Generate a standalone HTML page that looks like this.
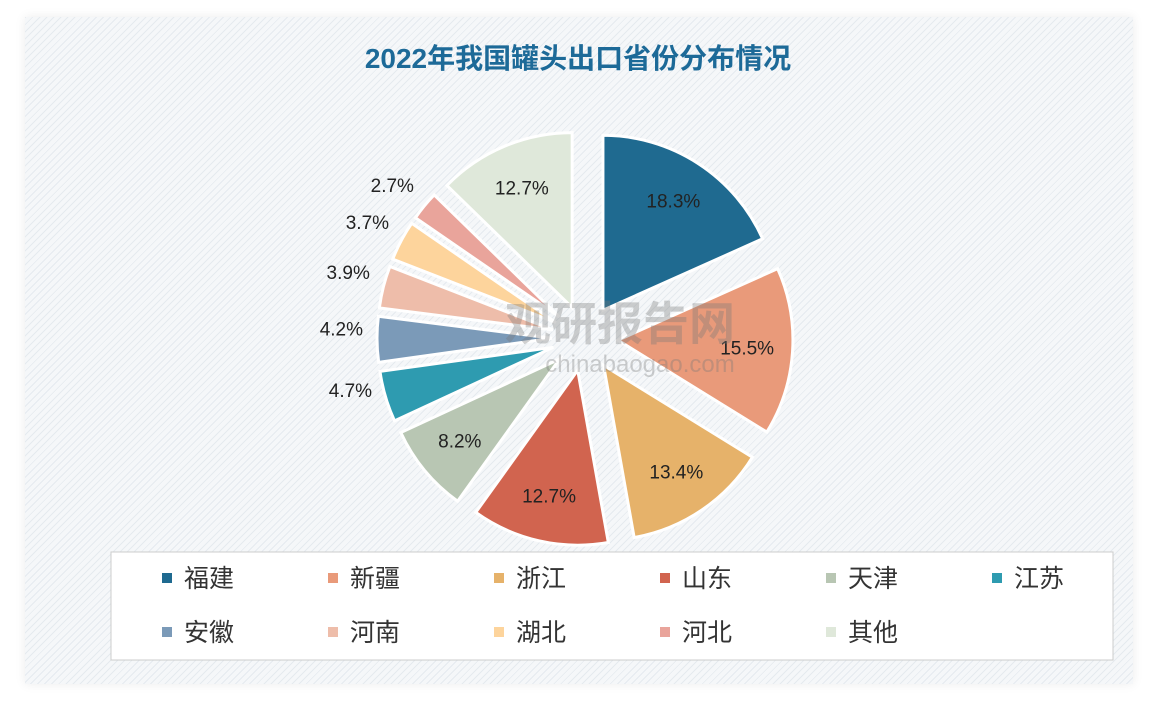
<!DOCTYPE html>
<html><head><meta charset="utf-8"><style>
html,body{margin:0;padding:0;background:#fff;}
body{width:1156px;height:706px;position:relative;overflow:hidden;font-family:"Liberation Sans","Noto Sans CJK SC",sans-serif;}
#panel{position:absolute;left:25px;top:17px;width:1108px;height:667px;background:#f5f7f9;box-shadow:0 0 10px rgba(0,0,0,0.08);
background-image:repeating-linear-gradient(135deg,rgba(200,210,220,0.35) 0 1px,transparent 1px 5px);}
</style></head><body>
<div id="panel"></div>
<svg id="chart" width="1156" height="706" style="position:absolute;left:0;top:0">
<text x="578" y="68" text-anchor="middle" font-size="28" font-weight="bold" fill="#1d6a98" font-family="Liberation Sans, Noto Sans CJK SC, sans-serif">2022年我国罐头出口省份分布情况</text>
<g id="slices"></g>
<g id="labels"></g>
<text x="620" y="340" text-anchor="middle" font-size="46" font-weight="bold" fill="rgba(120,120,120,0.35)" font-family="Noto Sans CJK SC, sans-serif">观研报告网</text>
<text x="640" y="372" text-anchor="middle" font-size="24" fill="rgba(120,120,120,0.35)">chinabaogao.com</text>
<rect x="111" y="552" width="1002" height="108" fill="#fff" stroke="#ccc" stroke-width="1"/>
<g id="legend"></g>
</svg>
<script>
const categories=["福建","新疆","浙江","山东","天津","江苏","安徽","河南","湖北","河北","其他"];
const values=[18.3,15.5,13.4,12.7,8.2,4.7,4.2,3.9,3.7,2.7,12.7];
const colors=["#1f6a90","#e99a7a","#e6b26a","#d1644f","#b8c6b3","#2e9bb0","#7b9ab8","#eebdaa","#fdd49c","#e9a49b","#dfe8da"];
const outside=[false,false,false,false,false,true,true,true,true,true,false];
const NS="http://www.w3.org/2000/svg";
const cx=585,cy=338,R=175,E=33;
const total=values.reduce((a,b)=>a+b,0);
const gS=document.getElementById('slices'),gL=document.getElementById('labels'),gG=document.getElementById('legend');
function pt(x,y,r,a){return [x+r*Math.sin(a),y-r*Math.cos(a)];}
let cum=0;
values.forEach((v,i)=>{
  const a0=cum/total*2*Math.PI,a1=(cum+v)/total*2*Math.PI,am=(a0+a1)/2;cum+=v;
  const ox=cx+E*Math.sin(am),oy=cy-E*Math.cos(am);
  const p0=pt(ox,oy,R,a0),p1=pt(ox,oy,R,a1);
  const path=document.createElementNS(NS,'path');
  path.setAttribute('d',`M${ox},${oy}L${p0[0]},${p0[1]}A${R},${R} 0 ${a1-a0>Math.PI?1:0} 1 ${p1[0]},${p1[1]}Z`);
  path.setAttribute('fill',colors[i]);path.setAttribute('stroke','#fff');path.setAttribute('stroke-width','3');
  
  
  gS.appendChild(path);
  const t=document.createElementNS(NS,'text');
  if(outside[i]){const q=pt(cx,cy,R+E+16,am);t.setAttribute('x',q[0]+2);t.setAttribute('y',q[1]-4);t.setAttribute('text-anchor','end');}
  else{const q=pt(ox,oy,R*0.74,am);t.setAttribute('x',q[0]);t.setAttribute('y',q[1]+6);t.setAttribute('text-anchor','middle');}
  t.setAttribute('font-size','19');t.setAttribute('fill','#222');
  t.textContent=v.toFixed(1)+'%';
  
  
  gL.appendChild(t);
});
categories.forEach((c,i)=>{
  const col=i%6,row=Math.floor(i/6);
  const x=162+col*166,y=578+row*54;
  const g=document.createElementNS(NS,'g');
  
  
  const r=document.createElementNS(NS,'rect');
  r.setAttribute('x',x);r.setAttribute('y',y-5);r.setAttribute('width',10);r.setAttribute('height',10);r.setAttribute('fill',colors[i]);
  const t=document.createElementNS(NS,'text');
  t.setAttribute('x',x+22);t.setAttribute('y',y+9);t.setAttribute('font-size','25');t.setAttribute('fill','#333');
  t.textContent=c;
  g.appendChild(r);g.appendChild(t);gG.appendChild(g);
});
</script>
</body></html>
